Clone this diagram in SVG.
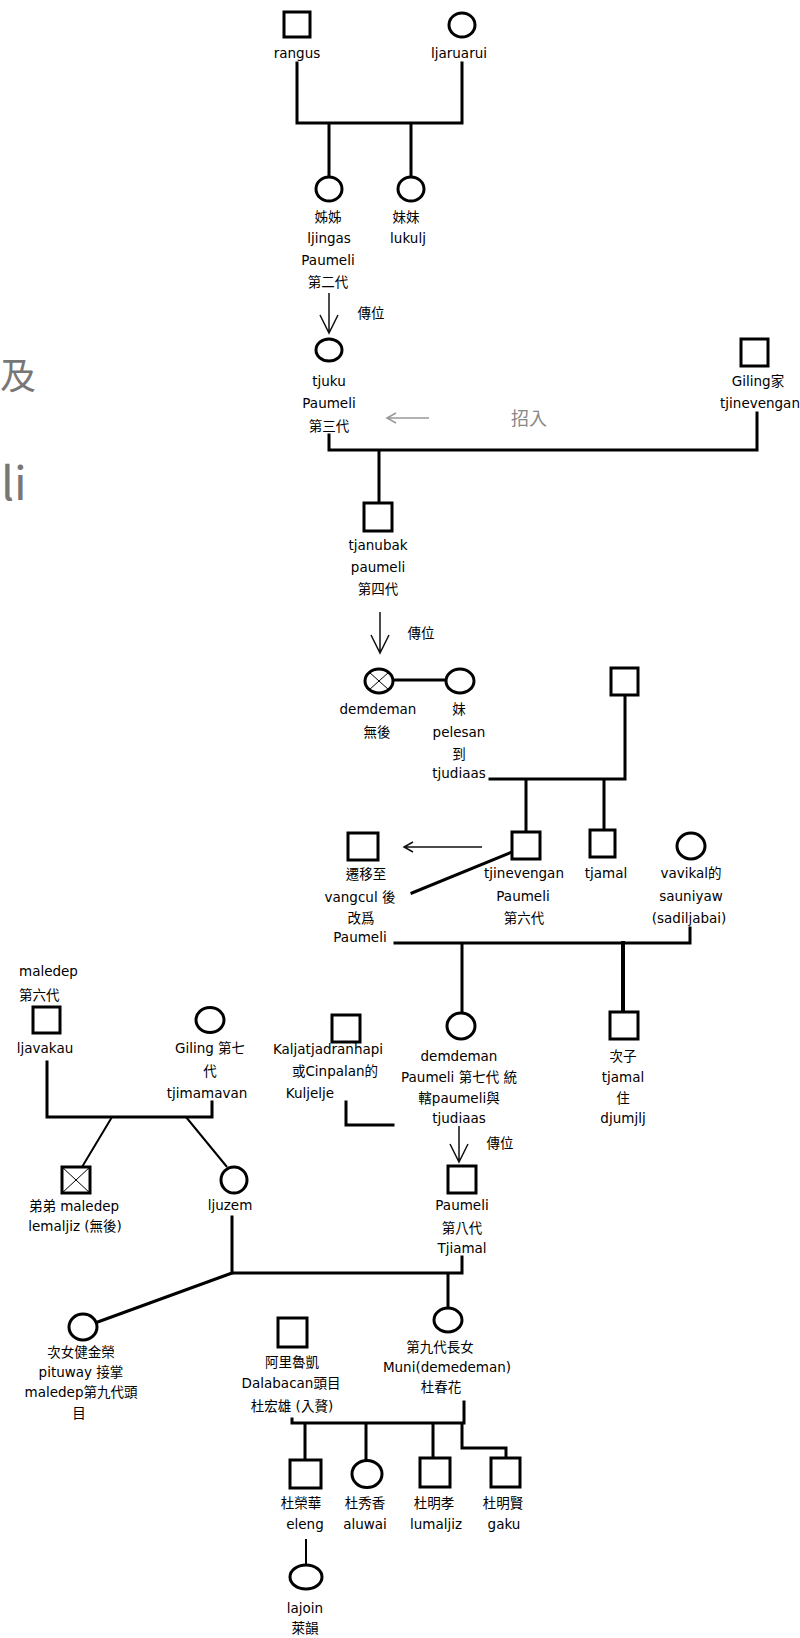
<svg xmlns="http://www.w3.org/2000/svg" width="800" height="1638" viewBox="0 0 800 1638">
<style>
.sq{fill:#fff;stroke:#000;stroke-width:3}
.ci{fill:#fff;stroke:#000;stroke-width:3}
.x{stroke:#000;stroke-width:1;fill:none}
.ln{stroke:#000;stroke-width:3;fill:none;stroke-linecap:square}
.tn{stroke:#000;stroke-width:2;fill:none}
.ar{stroke:#111;stroke-width:1.5;fill:none}
.ga{stroke:#999;stroke-width:1.5;fill:none}
text{font-family:"DejaVu Sans","Noto Sans CJK TC",sans-serif;font-size:13.5px;fill:#000;text-anchor:middle}
.l{text-anchor:start}
.g{fill:#888;font-size:18px}
.big{fill:#777;font-family:"Noto Sans CJK TC","Noto Sans",sans-serif;text-anchor:start}
.b1{font-size:36px}
.b2{font-size:46px}
</style>
<rect x="0" y="0" width="800" height="1638" fill="#fff"/>

<g id="edge-text">
<text class="big b1" x="0" y="389">及</text>
<text class="big b2" x="1" y="500">li</text>
</g>

<g id="connectors">
<path class="ln" d="M297 63V123H462V63M329 123V177M411 123V177"/>
<path class="ar" d="M329 293V333M320 315L329 333L338 315"/>
<path class="ga" d="M388 418H429M396 413L387 418L396 423"/>
<path class="ln" d="M329 435V450H757V413M379 450V503"/>
<path class="ar" d="M380 612V653M371 635L380 653L389 635"/>
<path class="ln" d="M393 680H446"/>
<path class="ln" d="M625 695V779H490M526 779V832M604 779V830"/>
<path class="ar" d="M482 847H404M413 842L404 847L413 852"/>
<path class="ln" d="M412 893L512 852"/>
<path class="ln" d="M395 943H690V928M462 943V1013"/>
<path class="ln" d="M623 943V1012" style="stroke-width:4"/>
<path class="ln" d="M47 1062V1117H212V1102"/>
<path class="tn" d="M112 1117L82 1167M186 1117L227 1167"/>
<path class="ln" d="M346 1102V1125H393"/>
<path class="ar" d="M459 1126V1162M450 1144L459 1162L468 1144"/>
<path class="ln" d="M232 1217V1273H462V1257M448 1273V1308"/>
<path class="ln" d="M232 1273L95 1323"/>
<path class="ln" d="M292 1419V1423H464V1402M305 1423V1460M366 1423V1460M433 1423V1458M462 1423V1448H506V1458"/>
<path class="tn" d="M306 1539V1565"/>
</g>

<g id="rangus"><rect class="sq" x="284" y="12" width="26" height="25"/><text x="297" y="58">rangus</text></g>
<g id="ljaruarui"><ellipse class="ci" cx="462" cy="25" rx="13" ry="12"/><text x="459" y="58">ljaruarui</text></g>
<g id="ljingas"><ellipse class="ci" cx="329" cy="189" rx="13" ry="12"/><text x="328" y="222">姊姊</text><text x="329" y="243">ljingas</text><text x="328" y="265">Paumeli</text><text x="328" y="287">第二代</text></g>
<g id="lukulj"><ellipse class="ci" cx="411" cy="189" rx="13" ry="12"/><text x="406" y="222">妹妹</text><text x="408" y="243">lukulj</text></g>
<g id="label-pass1"><text x="371" y="318">傳位</text></g>
<g id="tjuku"><ellipse class="ci" cx="329" cy="350" rx="13" ry="11"/><text x="329" y="386">tjuku</text><text x="329" y="408">Paumeli</text><text x="329" y="431">第三代</text></g>
<g id="label-zhaoru"><text class="g" x="529" y="425">招入</text></g>
<g id="giling"><rect class="sq" x="741" y="339" width="27" height="27"/><text x="758" y="386">Giling家</text><text x="760" y="408">tjinevengan</text></g>
<g id="tjanubak"><rect class="sq" x="364" y="503" width="28" height="28"/><text x="378" y="550">tjanubak</text><text x="378" y="572">paumeli</text><text x="378" y="594">第四代</text></g>
<g id="label-pass2"><text x="421" y="638">傳位</text></g>
<g id="demdeman1"><ellipse class="ci" cx="379" cy="681" rx="14" ry="12"/><path class="x" d="M369 672L389 690M389 672L369 690"/><text x="378" y="714">demdeman</text><text x="377" y="737">無後</text></g>
<g id="pelesan"><ellipse class="ci" cx="460" cy="681" rx="14" ry="12"/><text x="459" y="714">妹</text><text x="459" y="737">pelesan</text><text x="459" y="759">到</text><text x="459" y="778">tjudiaas</text></g>
<g id="tjudiaas-father"><rect class="sq" x="611" y="668" width="27" height="27"/></g>
<g id="moved"><rect class="sq" x="348" y="833" width="30" height="27"/><text x="366" y="879">遷移至</text><text x="360" y="902">vangcul 後</text><text x="361" y="923">改爲</text><text x="360" y="942">Paumeli</text></g>
<g id="tjinevengan6"><rect class="sq" x="512" y="832" width="28" height="27"/><text x="524" y="878">tjinevengan</text><text x="523" y="901">Paumeli</text><text x="524" y="923">第六代</text></g>
<g id="tjamal1"><rect class="sq" x="590" y="830" width="25" height="27"/><text x="606" y="878">tjamal</text></g>
<g id="vavikal"><ellipse class="ci" cx="691" cy="846" rx="14" ry="13"/><text x="691" y="878">vavikal的</text><text x="691" y="901">sauniyaw</text><text x="689" y="923">(sadiljabai)</text></g>
<g id="maledep-label"><text class="l" x="19" y="976">maledep</text><text class="l" x="19" y="1000">第六代</text></g>
<g id="ljavakau"><rect class="sq" x="33" y="1007" width="27" height="26"/><text x="45" y="1053">ljavakau</text></g>
<g id="tjimamavan"><ellipse class="ci" cx="210" cy="1020" rx="14" ry="12.5"/><text x="210" y="1053">Giling 第七</text><text x="210" y="1076">代</text><text x="207" y="1098">tjimamavan</text></g>
<g id="kuljelje"><rect class="sq" x="332" y="1015" width="28" height="27"/><text x="328" y="1054">Kaljatjadranhapi</text><text x="335" y="1076">或Cinpalan的</text><text x="310" y="1098">Kuljelje</text></g>
<g id="demdeman7"><ellipse class="ci" cx="461" cy="1026" rx="14" ry="13"/><text x="459" y="1061">demdeman</text><text x="459" y="1082">Paumeli 第七代 統</text><text x="459" y="1103">轄paumeli與</text><text x="459" y="1123">tjudiaas</text></g>
<g id="label-pass3"><text x="500" y="1148">傳位</text></g>
<g id="tjamal2"><rect class="sq" x="610" y="1012" width="28" height="27"/><text x="623" y="1061">次子</text><text x="623" y="1082">tjamal</text><text x="623" y="1103">住</text><text x="623" y="1123">djumjlj</text></g>
<g id="lemaljiz"><rect class="sq" x="62" y="1167" width="28" height="26"/><path class="x" d="M62 1167L90 1193M90 1167L62 1193"/><text x="74" y="1211">弟弟 maledep</text><text x="75" y="1231">lemaljiz (無後)</text></g>
<g id="ljuzem"><ellipse class="ci" cx="234" cy="1180" rx="13" ry="13"/><text x="230" y="1210">ljuzem</text></g>
<g id="tjiamal8"><rect class="sq" x="448" y="1166" width="28" height="27"/><text x="462" y="1210">Paumeli</text><text x="462" y="1233">第八代</text><text x="462" y="1253">Tjiamal</text></g>
<g id="pituway"><ellipse class="ci" cx="83" cy="1327" rx="14" ry="13"/><text x="81" y="1357">次女健金榮</text><text x="81" y="1377">pituway 接掌</text><text x="81" y="1397">maledep第九代頭</text><text x="79" y="1418">目</text></g>
<g id="dalabacan"><rect class="sq" x="278" y="1318" width="29" height="29"/><text x="292" y="1367">阿里魯凱</text><text x="291" y="1388">Dalabacan頭目</text><text x="292" y="1411">杜宏雄 (入贅)</text></g>
<g id="muni"><ellipse class="ci" cx="448" cy="1320" rx="14" ry="12"/><text x="440" y="1352">第九代長女</text><text x="447" y="1372">Muni(demedeman)</text><text x="441" y="1392">杜春花</text></g>
<g id="eleng"><rect class="sq" x="290" y="1460" width="31" height="28"/><text x="301" y="1508">杜榮華</text><text x="305" y="1529">eleng</text></g>
<g id="aluwai"><ellipse class="ci" cx="367" cy="1474" rx="15" ry="13.5"/><text x="365" y="1508">杜秀香</text><text x="365" y="1529">aluwai</text></g>
<g id="lumaljiz"><rect class="sq" x="420" y="1458" width="30" height="29"/><text x="434" y="1508">杜明孝</text><text x="436" y="1529">lumaljiz</text></g>
<g id="gaku"><rect class="sq" x="491" y="1458" width="29" height="29"/><text x="503" y="1508">杜明賢</text><text x="504" y="1529">gaku</text></g>
<g id="lajoin"><ellipse class="ci" cx="306" cy="1577" rx="16" ry="12"/><text x="305" y="1613">lajoin</text><text x="305" y="1633">萊韻</text></g>
</svg>
